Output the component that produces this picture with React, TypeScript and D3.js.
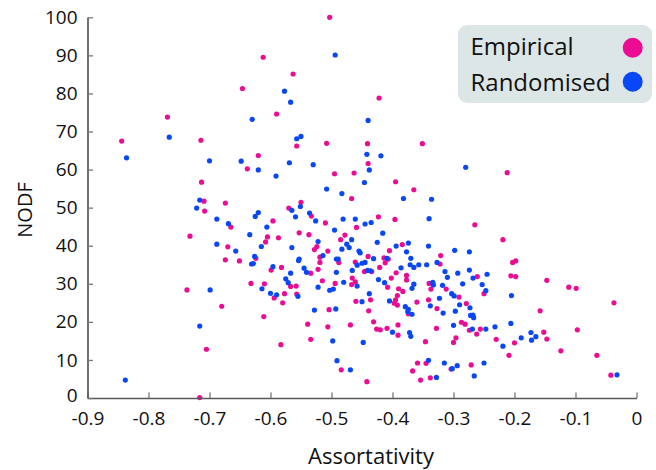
import React, { useEffect, useRef } from "react";
import * as d3 from "d3";

// [assortativity, NODF]
const empirical: [number, number][] = [
  [-0.844, 67.5], [-0.769, 73.8], [-0.714, 67.7], [-0.646, 81.3],
  [-0.503, 100.0], [-0.612, 89.5], [-0.563, 85.1], [-0.422, 78.8], [-0.59, 74.6], [-0.508, 66.9], [-0.441, 66.8], [-0.351, 66.8],
  [-0.638, 60.2], [-0.62, 63.7], [-0.713, 56.7], [-0.709, 51.7], [-0.708, 49.1], [-0.674, 51.2], [-0.665, 44.9], [-0.732, 42.5],
  [-0.67, 39.7], [-0.674, 36.3], [-0.651, 36.0], [-0.624, 36.7],
  [-0.557, 66.2], [-0.44, 61.6], [-0.495, 58.9], [-0.463, 59.1], [-0.395, 56.8], [-0.365, 54.7], [-0.467, 52.4], [-0.55, 51.4],
  [-0.57, 49.9], [-0.533, 47.8], [-0.596, 46.5], [-0.51, 46.0], [-0.423, 47.6], [-0.396, 46.9], [-0.459, 44.8], [-0.553, 43.4],
  [-0.537, 42.9], [-0.478, 42.8], [-0.605, 42.3], [-0.587, 42.1], [-0.485, 41.6], [-0.608, 41.0], [-0.384, 40.3], [-0.524, 39.8],
  [-0.528, 39.0], [-0.506, 38.6], [-0.405, 38.7], [-0.321, 37.4], [-0.44, 37.2], [-0.519, 37.0], [-0.488, 35.6], [-0.519, 35.6],
  [-0.414, 36.8], [-0.407, 36.5], [-0.461, 35.7], [-0.412, 35.5], [-0.322, 35.2], [-0.421, 34.3], [-0.599, 33.6], [-0.582, 34.3],
  [-0.534, 32.8], [-0.522, 33.8], [-0.446, 33.2], [-0.434, 33.2], [-0.394, 32.9],
  [-0.377, 32.2], [-0.377, 31.0], [-0.402, 31.5], [-0.408, 29.1], [-0.466, 31.5], [-0.461, 30.5], [-0.467, 29.8], [-0.494, 30.1],
  [-0.515, 30.8], [-0.632, 30.1], [-0.61, 30.0], [-0.567, 29.3], [-0.558, 29.4], [-0.577, 27.4], [-0.594, 26.3], [-0.557, 27.3],
  [-0.58, 25.0], [-0.436, 25.8], [-0.46, 25.4], [-0.39, 28.7], [-0.383, 28.0], [-0.392, 26.9], [-0.395, 25.8], [-0.397, 24.9],
  [-0.392, 24.4], [-0.374, 22.1], [-0.36, 25.2], [-0.34, 30.1], [-0.337, 28.6], [-0.312, 28.6], [-0.341, 25.8], [-0.327, 23.5],
  [-0.504, 23.2], [-0.439, 22.9], [-0.611, 21.4], [-0.539, 19.4], [-0.469, 19.2], [-0.431, 20.0], [-0.506, 18.7], [-0.426, 18.1],
  [-0.42, 17.9], [-0.409, 18.3], [-0.391, 19.2], [-0.391, 16.5], [-0.328, 18.3], [-0.346, 14.8], [-0.534, 15.4], [-0.583, 14.0],
  [-0.484, 7.4], [-0.442, 4.3], [-0.359, 9.2], [-0.345, 9.1], [-0.367, 7.1], [-0.354, 4.7], [-0.338, 5.3],
  [-0.261, 31.9], [-0.206, 32.1], [-0.198, 31.9], [-0.147, 30.9], [-0.25, 27.4], [-0.291, 26.5], [-0.111, 29.1], [-0.099, 28.8],
  [-0.037, 25.0], [-0.279, 24.8], [-0.158, 22.9], [-0.287, 19.9], [-0.281, 19.4], [-0.274, 17.8], [-0.256, 18.1], [-0.262, 16.8],
  [-0.152, 17.3], [-0.097, 17.9], [-0.147, 15.5], [-0.296, 15.8], [-0.3, 14.6], [-0.23, 15.4], [-0.2, 14.5], [-0.209, 11.2],
  [-0.124, 12.4], [-0.065, 11.2], [-0.304, 7.6], [-0.271, 8.7], [-0.042, 6.0],
  [-0.212, 59.2], [-0.265, 45.5], [-0.219, 41.6], [-0.203, 35.6], [-0.198, 36.0],
  [-0.737, 28.4], [-0.68, 24.1], [-0.705, 12.8], [-0.716, 0.1],
];

const randomised: [number, number][] = [
  [-0.766, 68.5], [-0.63, 73.2],
  [-0.494, 90.1], [-0.577, 80.6], [-0.567, 77.7], [-0.44, 72.9], [-0.557, 68.1], [-0.55, 68.7],
  [-0.836, 63.1], [-0.7, 62.3], [-0.648, 62.2], [-0.62, 59.9], [-0.716, 52.0], [-0.721, 49.9], [-0.688, 47.0], [-0.669, 45.8],
  [-0.634, 42.9], [-0.625, 47.7], [-0.62, 48.7], [-0.688, 40.4], [-0.657, 38.6], [-0.626, 37.2], [-0.631, 35.2], [-0.628, 35.3],
  [-0.442, 64.0], [-0.419, 63.6], [-0.438, 59.9], [-0.569, 61.8], [-0.53, 61.3], [-0.591, 58.3], [-0.446, 56.6], [-0.508, 54.9],
  [-0.483, 53.7], [-0.382, 52.4], [-0.336, 52.2], [-0.551, 50.3], [-0.565, 49.3], [-0.536, 48.6], [-0.559, 47.6], [-0.526, 46.5],
  [-0.481, 47.0], [-0.461, 47.0], [-0.435, 46.1], [-0.445, 45.7], [-0.34, 47.1], [-0.606, 44.9], [-0.495, 44.1], [-0.416, 43.3],
  [-0.467, 41.6], [-0.522, 41.1], [-0.425, 40.9], [-0.374, 40.7], [-0.341, 39.9], [-0.475, 40.4], [-0.471, 39.5], [-0.615, 39.8],
  [-0.565, 39.5], [-0.394, 39.9], [-0.483, 39.1], [-0.455, 38.6], [-0.453, 38.1], [-0.377, 38.4], [-0.514, 37.4], [-0.553, 36.5],
  [-0.554, 36.1], [-0.492, 36.5], [-0.489, 36.5], [-0.431, 36.6], [-0.409, 36.7], [-0.37, 36.7], [-0.445, 35.6], [-0.45, 35.4],
  [-0.458, 34.9], [-0.371, 35.0], [-0.365, 34.3], [-0.357, 35.0], [-0.344, 35.0], [-0.327, 35.6], [-0.314, 33.2], [-0.386, 34.2],
  [-0.596, 34.5], [-0.545, 34.1], [-0.541, 33.0], [-0.567, 32.8], [-0.492, 33.0], [-0.466, 33.5], [-0.441, 33.5], [-0.436, 33.4],
  [-0.423, 31.1], [-0.413, 30.3], [-0.458, 29.4], [-0.48, 30.4], [-0.497, 28.6], [-0.503, 28.3], [-0.522, 29.1], [-0.614, 28.7],
  [-0.575, 31.3], [-0.571, 30.3], [-0.6, 27.5], [-0.59, 27.1], [-0.555, 26.7], [-0.438, 27.4], [-0.45, 25.3], [-0.365, 29.9],
  [-0.368, 28.8], [-0.405, 25.5], [-0.379, 24.0], [-0.374, 23.3], [-0.375, 22.7], [-0.368, 22.0], [-0.334, 30.4], [-0.333, 29.7],
  [-0.318, 29.6], [-0.323, 26.2], [-0.338, 24.2], [-0.317, 22.3], [-0.528, 23.1], [-0.493, 23.4], [-0.4, 17.3], [-0.372, 17.2],
  [-0.37, 16.2], [-0.498, 15.0], [-0.448, 14.6], [-0.491, 9.8], [-0.469, 7.4], [-0.341, 9.9], [-0.315, 9.2], [-0.328, 5.4],
  [-0.293, 32.8], [-0.274, 33.6], [-0.268, 31.5], [-0.245, 32.5], [-0.31, 31.7], [-0.285, 30.0], [-0.253, 29.8], [-0.247, 28.2],
  [-0.303, 27.4], [-0.299, 26.8], [-0.205, 26.9], [-0.29, 24.5], [-0.273, 23.7], [-0.297, 22.8], [-0.272, 21.7], [-0.268, 21.8],
  [-0.267, 21.1], [-0.3, 19.1], [-0.206, 19.6], [-0.269, 18.1], [-0.247, 18.1], [-0.232, 18.7], [-0.173, 17.2], [-0.165, 16.1],
  [-0.172, 15.2], [-0.189, 15.8], [-0.219, 13.6], [-0.294, 8.5], [-0.302, 7.7], [-0.25, 9.2], [-0.266, 5.8], [-0.032, 6.1],
  [-0.28, 60.6], [-0.298, 38.8], [-0.274, 38.4],
  [-0.699, 28.4], [-0.716, 18.9], [-0.838, 4.7],
];

const xTicks = [-0.9, -0.8, -0.7, -0.6, -0.5, -0.4, -0.3, -0.2, -0.1, 0];
const yTicks = [0, 10, 20, 30, 40, 50, 60, 70, 80, 90, 100];
const series = ["Empirical", "Randomised"];
const colors = ["#ec0c94", "#0847f7"];

const width = 656;
const height = 470;
const font = "'Open Sans', sans-serif";

export default function App() {
  const ref = useRef<SVGSVGElement>(null);

  useEffect(() => {
    document.body.style.margin = "0";
    const svg = d3.select(ref.current);
    svg.selectAll("*").remove();

    const x = d3.scaleLinear().domain([-0.9, 0]).range([87.5, 636.5]);
    const y = d3.scaleLinear().domain([0, 100]).range([398, 17.3]);

    // points
    [empirical, randomised].forEach((pts, i) => {
      svg.append("g")
        .selectAll("circle")
        .data(pts)
        .join("circle")
          .attr("cx", d => x(d[0]))
          .attr("cy", d => y(d[1]))
          .attr("r", 2.6)
          .attr("fill", colors[i]);
    });

    const xAxis = svg.append("g")
      .attr("transform", `translate(0,${y(0)})`)
      .call(d3.axisBottom(x)
        .tickValues(xTicks)
        .tickSizeInner(-5.5)
        .tickSizeOuter(0)
        .tickPadding(14)
        .tickFormat(d => (+d === 0 ? "0" : (+d).toFixed(1))));

    const yAxis = svg.append("g")
      .attr("transform", `translate(${x(-0.9)},0)`)
      .call(d3.axisLeft(y)
        .tickValues(yTicks)
        .tickSizeInner(-5.5)
        .tickSizeOuter(0)
        .tickPadding(10));

    [xAxis, yAxis].forEach(g => {
      g.select(".domain").attr("stroke", "#595959").attr("stroke-width", 1.7);
      g.selectAll(".tick line").attr("stroke", "#777").attr("stroke-width", 1.3);
      g.selectAll(".tick text")
        .attr("font-family", font)
        .attr("font-size", 19)
        .attr("fill", "#111");
    });

    // lift the y "0" a touch so it clears the "-0.9" below it
    yAxis.selectAll(".tick text").filter(d => d === 0).attr("dy", "0.2em");

    svg.append("text")
      .attr("x", 371)
      .attr("y", 464)
      .attr("text-anchor", "middle")
      .attr("font-family", font)
      .attr("font-size", 22)
      .attr("fill", "#111")
      .text("Assortativity");

    svg.append("text")
      .attr("transform", "translate(32,210) rotate(-90)")
      .attr("text-anchor", "middle")
      .attr("font-family", font)
      .attr("font-size", 20)
      .attr("fill", "#111")
      .text("NODF");

    // legend
    const legend = svg.append("g");
    legend.append("rect")
      .attr("x", 458).attr("y", 25)
      .attr("width", 194).attr("height", 78)
      .attr("rx", 9)
      .attr("fill", "#dde6e6");

    series.forEach((name, i) => {
      legend.append("text")
        .attr("x", 470.5)
        .attr("y", 55 + i * 36)
        .attr("font-family", font)
        .attr("font-size", 24)
        .attr("fill", "#111")
        .text(name);
      legend.append("circle")
        .attr("cx", 632.7)
        .attr("cy", 47.7 + i * 34)
        .attr("r", 10)
        .attr("fill", colors[i]);
    });
  }, []);

  return <svg ref={ref} width={width} height={height} style={{ display: "block", background: "#fff" }} />;
}
